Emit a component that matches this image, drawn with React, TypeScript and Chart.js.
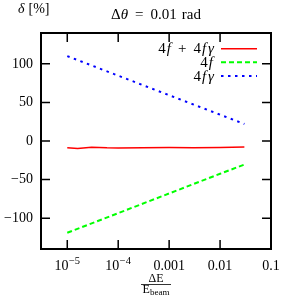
import React, { useEffect, useRef } from "react";
import { Chart, registerables } from "chart.js";

Chart.register(...registerables);

// ---- data ----
const redX = [1e-5, 1.6e-5, 3e-5, 6e-5, 1e-4, 3e-4, 1e-3, 3e-3, 1e-2, 3e-2];
const redY = [-8.6, -9.6, -8, -8.8, -9, -8.8, -8.5, -8.7, -8.3, -7.8];
const greenX = [1e-5, 1e-4, 1e-3, 1e-2, 3e-2];
const greenY = [-119, -93.5, -68, -42.5, -30.5];
const blueX = [1e-5, 1e-4, 1e-3, 1e-2, 3e-2];
const blueY = [110, 84.7, 59.4, 34.1, 22];

const xTickValues = [1e-5, 1e-4, 1e-3, 1e-2, 1e-1];
const xTickLabels = ["10^−5", "10^−4", "0.001", "0.01", "0.1"];
const yTickValues = [-100, -50, 0, 50, 100];

const FONT = '"Liberation Serif", "DejaVu Serif", serif';

type Part = { t?: string; gap?: number; it?: boolean; size?: number; dy?: number };

function drawRich(
  ctx: CanvasRenderingContext2D,
  parts: Part[],
  x: number,
  y: number,
  align: "left" | "center" | "right",
  baseSize: number
) {
  const fontOf = (p: Part) => `${p.it ? "italic " : ""}${p.size ?? baseSize}px ${FONT}`;
  const widthOf = (p: Part) => {
    if (p.gap !== undefined) return p.gap;
    ctx.font = fontOf(p);
    return ctx.measureText(p.t || "").width;
  };
  let w = 0;
  for (const p of parts) w += widthOf(p);
  let cx = align === "left" ? x : align === "center" ? x - w / 2 : x - w;
  ctx.textAlign = "left";
  ctx.textBaseline = "alphabetic";
  for (const p of parts) {
    if (p.gap === undefined) {
      ctx.font = fontOf(p);
      ctx.fillText(p.t || "", cx, y + (p.dy || 0));
    }
    cx += widthOf(p);
  }
}

const decorPlugin = {
  id: "decor",
  afterDraw(chart: any) {
    const ctx: CanvasRenderingContext2D = chart.ctx;
    const { left, right, top, bottom } = chart.chartArea;
    const xs = chart.scales.x;
    const ys = chart.scales.y;
    ctx.save();
    ctx.fillStyle = "#000";
    ctx.strokeStyle = "#000";

    // ticks (inward, all sides)
    ctx.lineWidth = 1.5;
    const tl = 9;
    xTickValues.forEach((v) => {
      const px = xs.getPixelForValue(v);
      if (px > right - 2) return;
      ctx.beginPath();
      ctx.moveTo(px, bottom);
      ctx.lineTo(px, bottom - tl);
      ctx.moveTo(px, top);
      ctx.lineTo(px, top + tl);
      ctx.stroke();
    });
    yTickValues.forEach((v) => {
      const py = ys.getPixelForValue(v);
      ctx.beginPath();
      ctx.moveTo(left, py);
      ctx.lineTo(left + tl, py);
      ctx.moveTo(right, py);
      ctx.lineTo(right - tl, py);
      ctx.stroke();
    });

    // frame
    ctx.lineWidth = 2;
    ctx.strokeRect(left, top, right - left, bottom - top);

    // x tick labels
    xTickValues.forEach((v, i) => {
      const px = xs.getPixelForValue(v);
      const lab = xTickLabels[i];
      if (lab.includes("^")) {
        const [b, e] = lab.split("^");
        drawRich(ctx, [{ t: b }, { gap: 0.5 }, { t: e, size: 10.5, dy: -6.5 }], px, bottom + 21, "center", 14);
      } else {
        drawRich(ctx, [{ t: lab }], px, bottom + 21, "center", 14);
      }
    });

    // title
    const cxArea = (left + right) / 2;
    drawRich(
      ctx,
      [
        { t: "Δ" },
        { t: "θ", it: true },
        { gap: 7 },
        { t: "=" },
        { gap: 7 },
        { t: "0.01" },
        { gap: 5 },
        { t: "rad" },
      ],
      cxArea,
      18.5,
      "center",
      15
    );

    // y label
    drawRich(ctx, [{ t: "δ", it: true }, { gap: 4 }, { t: "[%]" }], 18, 13, "left", 14);

    // x label (fraction)
    const fx = cxArea;
    drawRich(ctx, [{ t: "ΔE" }], fx, 282, "center", 12);
    drawRich(ctx, [{ t: "E" }, { t: "beam", size: 9, dy: 2 }], fx, 293, "center", 12);
    ctx.lineWidth = 0.8;
    ctx.beginPath();
    ctx.moveTo(fx - 15, 284.5);
    ctx.lineTo(fx + 15, 284.5);
    ctx.stroke();

    // legend
    const ds = chart.data.datasets;
    const legendText: Part[][] = [
      [
        { t: "4" },
        { gap: 1 },
        { t: "f", it: true },
        { gap: 7 },
        { t: "+" },
        { gap: 7 },
        { t: "4" },
        { gap: 1 },
        { t: "f", it: true },
        { gap: 2 },
        { t: "γ", it: true },
      ],
      [{ t: "4" }, { gap: 1 }, { t: "f", it: true }, { gap: 1 }],
      [{ t: "4" }, { gap: 1 }, { t: "f", it: true }, { gap: 2 }, { t: "γ", it: true }],
    ];
    const rowY = [48.7, 62.3, 76];
    ds.forEach((d: any, i: number) => {
      const y = rowY[i];
      ctx.save();
      ctx.strokeStyle = d.borderColor;
      ctx.lineWidth = d.borderWidth;
      ctx.setLineDash(d.borderDash || []);
      ctx.beginPath();
      ctx.moveTo(221, y);
      ctx.lineTo(257, y);
      ctx.stroke();
      ctx.restore();
      ctx.fillStyle = "#000";
      drawRich(ctx, legendText[i], 214, y + 4.5, "right", 15);
    });

    ctx.restore();
  },
};

export default function App() {
  const ref = useRef<HTMLCanvasElement>(null);
  useEffect(() => {
    if (!ref.current) return;
    const mk = (xs: number[], ys: number[]) => xs.map((x, i) => ({ x, y: ys[i] }));
    const chart = new Chart(ref.current, {
      type: "line",
      data: {
        datasets: [
          {
            label: "4f + 4fγ",
            data: mk(redX, redY),
            borderColor: "#ff0000",
            borderWidth: 1.5,
            pointRadius: 0,
            tension: 0,
          },
          {
            label: "4f",
            data: mk(greenX, greenY),
            borderColor: "#00ff00",
            borderWidth: 2,
            borderDash: [5, 3],
            pointRadius: 0,
            tension: 0,
          },
          {
            label: "4fγ",
            data: mk(blueX, blueY),
            borderColor: "#0000ff",
            borderWidth: 2,
            borderDash: [2.5, 4.5],
            pointRadius: 0,
            tension: 0,
          },
        ],
      },
      options: {
        animation: false,
        responsive: false,
        devicePixelRatio: 1,
        layout: { padding: { top: 33, right: 11, left: 0, bottom: 0 } },
        plugins: { legend: { display: false }, tooltip: { enabled: false }, title: { display: false } },
        scales: {
          x: {
            type: "logarithmic",
            min: 3.05e-6,
            max: 0.1,
            grid: { display: false, drawTicks: false },
            border: { display: false },
            ticks: { display: false },
            afterBuildTicks: (s: any) => {
              s.ticks = xTickValues.map((v) => ({ value: v }));
            },
            afterFit: (s: any) => {
              s.height = 47;
            },
          },
          y: {
            type: "linear",
            min: -140,
            max: 140,
            grid: { display: false, drawTicks: false },
            border: { display: false },
            ticks: {
              color: "#000",
              padding: 8,
              font: { family: FONT, size: 14 },
              callback: (v: any) => (v < 0 ? "−" + Math.abs(v) : String(v)),
            },
            afterBuildTicks: (s: any) => {
              s.ticks = yTickValues.map((v) => ({ value: v }));
            },
            afterFit: (s: any) => {
              s.width = 41;
            },
          },
        },
      },
      plugins: [decorPlugin],
    });
    return () => chart.destroy();
  }, []);
  return (
    <div style={{ position: "absolute", left: 0, top: 0, width: 282, height: 296 }}>
      <canvas ref={ref} width={282} height={296} style={{ display: "block" }} />
    </div>
  );
}
